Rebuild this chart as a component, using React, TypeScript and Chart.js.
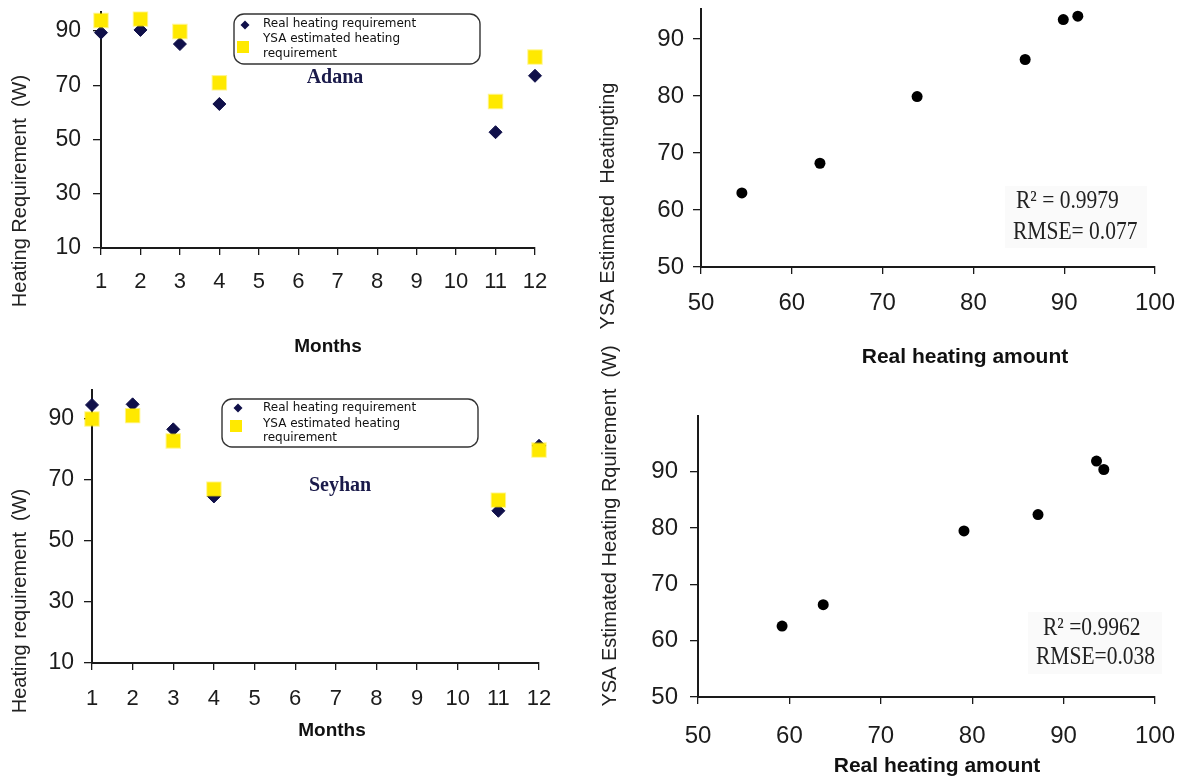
import React, { useEffect, useRef } from 'react';
import { Chart, registerables } from 'chart.js';

Chart.register(...registerables);

const W = 1187;
const H = 780;

// ---------- data ----------
const MONTHS = [1, 2, 3, 4, 5, 6, 7, 8, 9, 10, 11, 12];
const ADANA_REAL = [89.4, 90.4, 85.2, 63.1, null, null, null, null, null, null, 52.7, 73.5];
const ADANA_YSA = [93.9, 94.4, 89.8, 70.9, null, null, null, null, null, null, 64.0, 80.4];
const SEYHAN_REAL = [94.6, 94.8, 86.6, 64.6, null, null, null, null, null, null, 59.9, 81.2];
const SEYHAN_YSA = [90.0, 91.1, 82.8, 67.0, null, null, null, null, null, null, 63.4, 79.8];

const ADANA_SCATTER_REAL = [54.5, 63.1, 73.8, 85.7, 89.9, 91.5];
const ADANA_SCATTER_YSA = [63.0, 68.2, 79.9, 86.4, 93.4, 94.0];
const SEYHAN_SCATTER_REAL = [59.2, 63.7, 79.1, 87.2, 93.6, 94.4];
const SEYHAN_SCATTER_YSA = [62.6, 66.4, 79.5, 82.4, 91.9, 90.4];

const MONTH_TICKS = [1, 2, 3, 4, 5, 6, 7, 8, 9, 10, 11, 12];
const MONTH_Y_TICKS = [10, 30, 50, 70, 90];
const SCATTER_X_TICKS = [50, 60, 70, 80, 90, 100];
const SCATTER_Y_TICKS = [50, 60, 70, 80, 90];

const LEGEND_REAL = 'Real heating requirement';
const LEGEND_YSA = ['YSA estimated heating', 'requirement'];

// ---------- styles ----------
const SANS = '"Liberation Sans", Arial, sans-serif';
const SERIF = '"Liberation Serif", "Times New Roman", serif';
const LEGEND_FONT = '"DejaVu Sans", Tahoma, sans-serif';
const NAVY = '#10104a';
const YELLOW = '#ffe900';
const AXIS = '#1a1a1a';
const TICK_TEXT = '#1c1c1c';

type TextItem = {
  text: string;
  x: number;
  y: number;
  font: string;
  color?: string;
  align?: CanvasTextAlign;
  rotate?: boolean;
  sx?: number;
};

type LegendSpec = {
  x: number;
  y: number;
  w: number;
  h: number;
  diamond: [number, number];
  square: [number, number];
  textX: number;
  lineY: number[];
};

type Frame = {
  left: number;
  axisX: number;
  axisY: number;
  top: number;
  right: number;
  xMin: number;
  xMax: number;
  yMin: number;
  yMax: number;
  xTicks: number[];
  yTicks: number[];
  xFont: number;
  yFont: number;
  xPad: number;
  yPad: number;
};

function overlay(texts: TextItem[], legend?: LegendSpec, boxes?: number[][]) {
  return {
    id: 'overlay',
    afterDraw(chart: any) {
      const ctx: CanvasRenderingContext2D = chart.ctx;
      ctx.save();
      if (boxes) {
        for (const b of boxes) {
          ctx.fillStyle = 'rgba(240,240,240,0.3)';
          ctx.fillRect(b[0], b[1], b[2], b[3]);
        }
      }
      if (legend) {
        const { x, y, w, h } = legend;
        const r = 10;
        ctx.beginPath();
        ctx.moveTo(x + r, y);
        ctx.arcTo(x + w, y, x + w, y + h, r);
        ctx.arcTo(x + w, y + h, x, y + h, r);
        ctx.arcTo(x, y + h, x, y, r);
        ctx.arcTo(x, y, x + w, y, r);
        ctx.closePath();
        ctx.fillStyle = '#ffffff';
        ctx.fill();
        ctx.strokeStyle = '#333333';
        ctx.lineWidth = 1.4;
        ctx.stroke();
        const [dx, dy] = legend.diamond;
        const dr = 4.5;
        ctx.beginPath();
        ctx.moveTo(dx - dr, dy);
        ctx.lineTo(dx, dy - dr);
        ctx.lineTo(dx + dr, dy);
        ctx.lineTo(dx, dy + dr);
        ctx.closePath();
        ctx.fillStyle = NAVY;
        ctx.fill();
        const [sx, sy] = legend.square;
        ctx.fillStyle = YELLOW;
        ctx.fillRect(sx - 6, sy - 6, 12, 12);
        ctx.fillStyle = '#111111';
        ctx.font = `12px ${LEGEND_FONT}`;
        ctx.textAlign = 'left';
        ctx.textBaseline = 'middle';
        const lines = [LEGEND_REAL, ...LEGEND_YSA];
        lines.forEach((t, i) => ctx.fillText(t, legend.textX, legend.lineY[i]));
      }
      for (const t of texts) {
        ctx.save();
        ctx.font = t.font;
        ctx.fillStyle = t.color || '#1a1a1a';
        ctx.textAlign = t.align || 'center';
        ctx.textBaseline = 'middle';
        ctx.translate(t.x, t.y);
        if (t.rotate) ctx.rotate(-Math.PI / 2);
        if (t.sx) ctx.scale(t.sx, 1);
        ctx.fillText(t.text, 0, 0);
        ctx.restore();
      }
      ctx.restore();
    },
  };
}

function buildOptions(f: Frame): any {
  const xH = 60;
  const grid = {
    display: true,
    drawOnChartArea: false,
    drawTicks: true,
    color: AXIS,
    lineWidth: 1.3,
  };
  return {
    responsive: false,
    animation: false,
    devicePixelRatio: 1,
    events: [],
    layout: {
      padding: {
        left: f.left,
        top: f.top,
        right: W - f.right,
        bottom: H - f.axisY - xH,
      },
    },
    plugins: { legend: { display: false }, tooltip: { enabled: false } },
    scales: {
      x: {
        type: 'linear',
        position: 'bottom',
        min: f.xMin,
        max: f.xMax,
        afterBuildTicks: (s: any) => {
          s.ticks = f.xTicks.map((v) => ({ value: v }));
        },
        afterFit: (s: any) => {
          s.height = xH;
          s.paddingLeft = 0;
          s.paddingRight = 0;
        },
        grid: { ...grid, tickLength: 7 },
        border: { display: true, color: AXIS, width: 2 },
        ticks: {
          font: { family: SANS, size: f.xFont },
          color: TICK_TEXT,
          padding: f.xPad,
          maxRotation: 0,
          autoSkip: false,
        },
      },
      y: {
        type: 'linear',
        position: 'left',
        min: f.yMin,
        max: f.yMax,
        afterBuildTicks: (s: any) => {
          s.ticks = f.yTicks.map((v) => ({ value: v }));
        },
        afterFit: (s: any) => {
          s.width = f.axisX - f.left;
          s.paddingTop = 0;
          s.paddingBottom = 0;
        },
        grid: { ...grid, tickLength: 8 },
        border: { display: true, color: AXIS, width: 2 },
        ticks: {
          font: { family: SANS, size: f.yFont },
          color: TICK_TEXT,
          padding: f.yPad,
          autoSkip: false,
        },
      },
    },
  };
}

function monthData(real: (number | null)[], ysa: (number | null)[]) {
  const pts = (arr: (number | null)[]) =>
    MONTHS.map((m, i) => ({ x: m, y: arr[i] })).filter((p) => p.y !== null);
  return {
    datasets: [
      {
        label: 'YSA estimated heating requirement',
        data: pts(ysa),
        pointStyle: 'rect',
        pointRadius: 9.5,
        backgroundColor: YELLOW,
        borderColor: 'rgba(255,233,0,0.45)',
        borderWidth: 2,
        showLine: false,
        clip: false,
        order: 1,
      },
      {
        label: 'Real heating requirement',
        data: pts(real),
        pointStyle: 'rectRot',
        pointRadius: 6.5,
        backgroundColor: NAVY,
        borderColor: NAVY,
        borderWidth: 1,
        showLine: false,
        clip: false,
        order: 2,
      },
    ],
  };
}

function scatterData(real: number[], ysa: number[]) {
  return {
    datasets: [
      {
        label: 'YSA vs real',
        data: real.map((v, i) => ({ x: v, y: ysa[i] })),
        pointStyle: 'circle',
        pointRadius: 5.5,
        backgroundColor: '#000000',
        borderColor: '#000000',
        borderWidth: 0,
        showLine: false,
        clip: false,
      },
    ],
  };
}

// ---------- panels ----------
const PANELS: any[] = [
  {
    data: monthData(ADANA_REAL, ADANA_YSA),
    frame: {
      left: 0, axisX: 101, axisY: 248, top: 5, right: 535,
      xMin: 1, xMax: 12, yMin: 10, yMax: 97.2,
      xTicks: MONTH_TICKS, yTicks: MONTH_Y_TICKS,
      xFont: 22, yFont: 23, xPad: 14, yPad: 12,
    },
    plugin: overlay(
      [
        { text: 'Heating Requirement  (W)', x: 20, y: 191, font: `20px ${SANS}`, rotate: true, color: '#222' },
        { text: 'Months', x: 328, y: 347, font: `bold 19px ${SANS}`, color: '#111' },
        { text: 'Adana', x: 335, y: 78, font: `bold 20px ${SERIF}`, color: '#1a1a4a' },
      ],
      { x: 234, y: 14, w: 246, h: 50, diamond: [245, 25], square: [243, 47], textX: 263, lineY: [24, 39, 54] }
    ),
  },
  {
    data: scatterData(ADANA_SCATTER_REAL, ADANA_SCATTER_YSA),
    frame: {
      left: 590, axisX: 701, axisY: 267, top: 9, right: 1155,
      xMin: 50, xMax: 100, yMin: 50, yMax: 95.26,
      xTicks: SCATTER_X_TICKS, yTicks: SCATTER_Y_TICKS,
      xFont: 24, yFont: 24, xPad: 15, yPad: 9,
    },
    plugin: overlay(
      [
        { text: 'YSA Estimated  Heatingting', x: 608, y: 206, font: `20px ${SANS}`, rotate: true, color: '#222' },
        { text: 'Real heating amount', x: 965, y: 357, font: `bold 21px ${SANS}`, color: '#111' },
        { text: 'R² = 0.9979', x: 1016, y: 201, font: `25px ${SERIF}`, align: 'left', sx: 0.86, color: '#222' },
        { text: 'RMSE= 0.077', x: 1013, y: 232, font: `25px ${SERIF}`, align: 'left', sx: 0.86, color: '#222' },
      ],
      undefined,
      [[1005, 186, 142, 62]]
    ),
  },
  {
    data: monthData(SEYHAN_REAL, SEYHAN_YSA),
    frame: {
      left: 0, axisX: 92, axisY: 663, top: 390, right: 539,
      xMin: 1, xMax: 12, yMin: 10, yMax: 99.5,
      xTicks: MONTH_TICKS, yTicks: MONTH_Y_TICKS,
      xFont: 22, yFont: 23, xPad: 16, yPad: 10,
    },
    plugin: overlay(
      [
        { text: 'Heating requirement  (W)', x: 20, y: 601, font: `20px ${SANS}`, rotate: true, color: '#222' },
        { text: 'Months', x: 332, y: 731, font: `bold 19px ${SANS}`, color: '#111' },
        { text: 'Seyhan', x: 340, y: 486, font: `bold 20px ${SERIF}`, color: '#1a1a4a' },
      ],
      { x: 222, y: 399, w: 256, h: 48, diamond: [238, 408], square: [236, 426], textX: 263, lineY: [408, 424, 438] }
    ),
  },
  {
    data: scatterData(SEYHAN_SCATTER_REAL, SEYHAN_SCATTER_YSA),
    frame: {
      left: 590, axisX: 698, axisY: 697, top: 416, right: 1155,
      xMin: 50, xMax: 100, yMin: 50, yMax: 99.9,
      xTicks: SCATTER_X_TICKS, yTicks: SCATTER_Y_TICKS,
      xFont: 24, yFont: 24, xPad: 18, yPad: 12,
    },
    plugin: overlay(
      [
        { text: 'YSA Estimated Heating Rquirement  (W)', x: 610, y: 526, font: `20px ${SANS}`, rotate: true, color: '#222' },
        { text: 'Real heating amount', x: 937, y: 766, font: `bold 21px ${SANS}`, color: '#111' },
        { text: 'R² =0.9962', x: 1043, y: 628, font: `25px ${SERIF}`, align: 'left', sx: 0.86, color: '#222' },
        { text: 'RMSE=0.038', x: 1036, y: 657, font: `25px ${SERIF}`, align: 'left', sx: 0.86, color: '#222' },
      ],
      undefined,
      [[1028, 612, 134, 62]]
    ),
  },
];

function Panel({ spec }: { spec: any }) {
  const ref = useRef<HTMLCanvasElement>(null);
  useEffect(() => {
    if (!ref.current) return;
    const chart = new Chart(ref.current, {
      type: 'scatter',
      data: spec.data,
      options: buildOptions(spec.frame),
      plugins: [spec.plugin],
    } as any);
    return () => chart.destroy();
  }, [spec]);
  return (
    <canvas
      ref={ref}
      width={W}
      height={H}
      style={{ position: 'absolute', left: 0, top: 0, width: W, height: H }}
    />
  );
}

export default function App() {
  return (
    <div
      style={{
        position: 'absolute',
        left: 0,
        top: 0,
        width: W,
        height: H,
        background: '#ffffff',
        overflow: 'hidden',
      }}
    >
      {PANELS.map((p, i) => (
        <Panel key={i} spec={p} />
      ))}
    </div>
  );
}
